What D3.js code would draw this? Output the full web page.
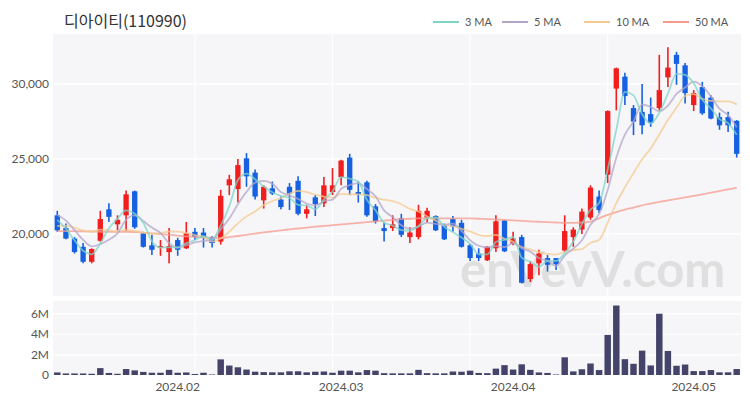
<!DOCTYPE html>
<html>
<head>
<meta charset="utf-8">
<script src="https://cdn.jsdelivr.net/npm/d3@7"></script>
<style>
  body { margin: 0; background: #fff; }
  svg { display: block; }
</style>
</head>
<body>
<script>
'use strict';

// trading days shown (KRX)
const dates = [
  "2024-01-12","2024-01-15","2024-01-16","2024-01-17","2024-01-18","2024-01-19","2024-01-22","2024-01-23","2024-01-24","2024-01-25",
  "2024-01-26","2024-01-29","2024-01-30","2024-01-31","2024-02-01","2024-02-02","2024-02-05","2024-02-06","2024-02-07","2024-02-08",
  "2024-02-13","2024-02-14","2024-02-15","2024-02-16","2024-02-19","2024-02-20","2024-02-21","2024-02-22","2024-02-23","2024-02-26",
  "2024-02-27","2024-02-28","2024-02-29","2024-03-04","2024-03-05","2024-03-06","2024-03-07","2024-03-08","2024-03-11","2024-03-12",
  "2024-03-13","2024-03-14","2024-03-15","2024-03-18","2024-03-19","2024-03-20","2024-03-21","2024-03-22","2024-03-25","2024-03-26",
  "2024-03-27","2024-03-28","2024-03-29","2024-04-01","2024-04-02","2024-04-03","2024-04-04","2024-04-05","2024-04-08","2024-04-09",
  "2024-04-11","2024-04-12","2024-04-15","2024-04-16","2024-04-17","2024-04-18","2024-04-19","2024-04-22","2024-04-23","2024-04-24",
  "2024-04-25","2024-04-26","2024-04-29","2024-04-30","2024-05-02","2024-05-03","2024-05-07","2024-05-08","2024-05-09","2024-05-10"
];

const opens = [
  21200,20350,19650,19100,18100,19500,21600,20600,21200,22800,
  20000,19200,19050,18750,19550,19000,20100,20050,19750,19450,
  23200,22950,25000,24050,22200,23000,22250,23100,23500,21300,
  22400,22000,22750,23750,25050,22750,23400,21800,20350,20350,
  21000,19750,19750,21050,21150,20550,20950,20700,19200,18650,
  18200,19000,20850,19300,19750,16950,18000,18350,18350,18850,
  19750,20250,21050,22450,23900,29650,30450,28350,28100,27950,
  28350,30400,31900,31200,28550,29750,29050,27750,27750,27500
];
const highs = [
  21500,20650,19750,19350,19000,21500,22000,21200,22850,22850,
  20100,19900,19550,20350,19700,20750,20350,20350,19800,22900,
  23900,24950,25350,24250,23200,23450,22450,23350,23800,21900,
  22550,23750,24350,24900,25300,23450,23500,21950,20700,21200,
  21300,20400,21900,21700,21200,20650,21150,20900,19300,19000,
  19150,21200,20900,20100,19900,18150,18900,18550,18350,21200,
  20400,21650,23200,22850,28200,31050,30700,28550,29950,29050,
  31900,32400,32100,31350,29550,30100,29200,28050,28100,27550
];
const lows = [
  20100,19600,18650,18000,18000,19450,20750,20200,20150,20300,
  19050,18550,18500,18000,18500,18950,19550,19050,19050,19250,
  22550,22050,23100,22250,21650,22550,21600,21550,21200,21000,
  21150,21750,22550,23200,22550,22050,21100,20650,19450,20150,
  19750,19350,19600,20700,20150,19550,20100,19050,18150,18150,
  18150,18750,18750,19200,16650,16750,17200,17450,17550,18750,
  19100,19950,20900,21350,23350,28200,28550,26550,26600,27100,
  28200,29750,29900,28650,28150,27900,27600,26900,26750,25050
];
const closes = [
  20200,19650,18750,18100,18950,20950,21100,20900,22600,20400,
  19100,18900,19150,19150,18900,20000,19750,19700,19350,22500,
  23600,24550,23800,22450,23100,22650,21750,22650,21300,21600,
  21950,23200,23200,24850,22900,22600,21200,20800,20150,20600,
  19900,20050,21500,21500,20200,19600,20450,19100,18350,18350,
  19100,20800,18800,19650,16700,17950,18650,17900,17950,20150,
  20250,21450,23050,21550,28150,31000,29150,27450,27200,27350,
  29550,31050,31300,29350,29350,28000,27650,27200,27200,25300
];
// closes of the 9 sessions before the window, so the short averages start where the picture shows
const priorCloses = [19600,19900,20100,19700,19500,21500,21900,21400,21100];

const volumes = [
  250000,150000,150000,150000,120000,670000,200000,120000,580000,450000,
  300000,220000,220000,500000,220000,250000,100000,220000,50000,1520000,
  920000,750000,530000,320000,280000,260000,260000,360000,360000,260000,
  320000,340000,220000,420000,420000,260000,480000,420000,180000,160000,
  160000,160000,500000,180000,160000,160000,340000,320000,420000,200000,
  180000,620000,960000,530000,1040000,500000,250000,200000,50000,1720000,
  350000,560000,1120000,480000,3900000,6760000,1540000,1090000,2370000,930000,
  5960000,2340000,900000,1020000,380000,380000,480000,260000,260000,580000
];

// 50-day average (history before the window is not shown)
const ma50 = [
  20150,20150,20140,20130,20120,20100,20100,20100,20100,20080,
  20050,20000,19950,19900,19850,19800,19760,19720,19700,19680,
  19750,19820,19900,19980,20060,20130,20200,20260,20320,20380,
  20440,20490,20540,20590,20640,20690,20740,20800,20850,20900,
  20940,20970,21000,21000,21000,21000,21000,21000,20990,20970,
  20950,20920,20890,20860,20830,20800,20770,20740,20720,20700,
  20700,20720,20780,21000,21230,21420,21580,21720,21870,21980,
  22090,22190,22290,22390,22490,22600,22710,22820,22930,23040
];

const priceTicks = [20000, 25000, 30000];
const volumeTicks = [0, 2000000, 4000000, 6000000];
const maPeriods = [3, 5, 10];
const legendLabels = ["3 MA", "5 MA", "10 MA", "50 MA"];
const maColors = ["#7fd4c8", "#b2a5c9", "#f4c98f", "#f59b8d"];
const title = "디아이티(110990)";

window.onload = function() {
  let width = 750;
  let height = 400;
  let left = 53, right = 741;
  let priceTop = 34, priceBottom = 296;
  let volTop = 301, volBottom = 375;
  let upColor = "#f21d1d";
  let downColor = "#1661e2";
  let font = "Lato, 'Noto Sans', sans-serif";

  let svg = d3.select("body").append("svg")
    .attr("width", width)
    .attr("height", height);

  let idx = d3.range(dates.length);
  let x = d3.scaleBand().domain(idx).range([left, right]);
  let cx = i => x(i) + x.bandwidth() / 2;

  let y = d3.scaleLinear().domain([15820, 33290]).range([priceBottom, priceTop]);
  let yv = d3.scaleLinear().domain([0, 7200000]).range([volBottom, volTop]);

  // panel backgrounds
  svg.append("rect").attr("x", left).attr("y", priceTop)
    .attr("width", right - left).attr("height", priceBottom - priceTop).attr("fill", "#f6f6f8");
  svg.append("rect").attr("x", left).attr("y", volTop)
    .attr("width", right - left).attr("height", volBottom - volTop).attr("fill", "#f6f6f8");

  // grid
  let vgrid = idx.filter(i => i > 0 && i % 16 === 0);
  svg.append("g").selectAll("line").data(vgrid).enter().append("line")
    .attr("x1", cx).attr("x2", cx)
    .attr("y1", priceTop).attr("y2", priceBottom)
    .attr("stroke", "#ffffff").attr("stroke-width", 1.2);
  svg.append("g").selectAll("line").data(vgrid).enter().append("line")
    .attr("x1", cx).attr("x2", cx)
    .attr("y1", volTop).attr("y2", volBottom)
    .attr("stroke", "#ffffff").attr("stroke-width", 1.2);

  let yAxis = svg.append("g")
    .attr("transform", "translate(" + left + ",0)")
    .call(d3.axisLeft(y).tickValues(priceTicks).tickSize(-(right - left)).tickPadding(4)
      .tickFormat(d3.format(",")));
  let vAxis = svg.append("g")
    .attr("transform", "translate(" + left + ",0)")
    .call(d3.axisLeft(yv).tickValues(volumeTicks).tickSize(-(right - left)).tickPadding(4)
      .tickFormat(d => d === 0 ? "0" : (d / 1e6) + "M"));
  [yAxis, vAxis].forEach(a => {
    a.select(".domain").remove();
    a.selectAll(".tick line").attr("stroke", "#ffffff").attr("stroke-width", 1.2);
    a.selectAll(".tick text").attr("fill", "#555").style("font-family", font).style("font-size", "12px");
  });

  // month ticks at first session of each month
  let monthStarts = idx.filter(i => i > 0 && dates[i].slice(5, 7) !== dates[i - 1].slice(5, 7));
  let xAxis = svg.append("g")
    .attr("transform", "translate(0," + volBottom + ")")
    .call(d3.axisBottom(x).tickValues(monthStarts).tickSize(0).tickPadding(7)
      .tickFormat(i => dates[i].slice(0, 7).replace("-", ".")));
  xAxis.select(".domain").remove();
  xAxis.selectAll(".tick text").attr("fill", "#555").style("font-family", font).style("font-size", "12px");

  // watermark
  svg.append("text")
    .attr("x", 460).attr("y", 287)
    .attr("fill", "#d6d6d6").attr("opacity", 0.7)
    .style("font-family", font).style("font-weight", "bold").style("font-size", "49px")
    .text("enVevV.com");

  // volume bars
  let bw = x.bandwidth() * 0.75;
  svg.append("g").selectAll("rect").data(idx).enter().append("rect")
    .attr("x", i => cx(i) - bw / 2)
    .attr("width", bw)
    .attr("y", i => yv(volumes[i]))
    .attr("height", i => Math.max(0.5, yv(0) - yv(volumes[i])))
    .attr("fill", "#44446a");

  // candles
  let cw = x.bandwidth() * 0.62;
  let candles = svg.append("g").selectAll("g").data(idx).enter().append("g");
  let col = i => closes[i] >= opens[i] ? upColor : downColor;
  candles.append("line")
    .attr("x1", cx).attr("x2", cx)
    .attr("y1", i => y(highs[i])).attr("y2", i => y(lows[i]))
    .attr("stroke", col).attr("stroke-width", 1.6);
  candles.append("rect")
    .attr("x", i => cx(i) - cw / 2)
    .attr("width", cw)
    .attr("y", i => y(Math.max(opens[i], closes[i])))
    .attr("height", i => Math.max(1, Math.abs(y(opens[i]) - y(closes[i]))))
    .attr("fill", col);

  // moving averages
  let all = priorCloses.concat(closes);
  let off = priorCloses.length;
  let series = maPeriods.map(p => idx.map(i => d3.mean(all.slice(i + off - p + 1, i + off + 1))));
  series.push(ma50);
  let line = d3.line().x((d, i) => cx(i)).y(d => y(d)).curve(d3.curveMonotoneX);
  svg.append("g").selectAll("path").data(series.slice().reverse()).enter().append("path")
    .attr("d", line)
    .attr("fill", "none")
    .attr("stroke", (d, k) => maColors[series.length - 1 - k])
    .attr("stroke-width", 1.8)
    .attr("opacity", 0.75);

  // title
  svg.append("text")
    .attr("x", 64).attr("y", 27)
    .attr("fill", "#333")
    .style("font-family", "'Noto Sans CJK KR', sans-serif")
    .style("font-size", "16px")
    .text(title);

  // legend
  let legendX = [433, 502, 584, 663];
  let legend = svg.append("g").selectAll("g").data(legendLabels).enter().append("g")
    .attr("transform", (d, k) => "translate(" + legendX[k] + ",22)");
  legend.append("line")
    .attr("x1", 0).attr("x2", 26).attr("y1", 0).attr("y2", 0)
    .attr("stroke", (d, k) => maColors[k]).attr("stroke-width", 2);
  legend.append("text")
    .attr("x", 32).attr("y", 4)
    .attr("fill", "#555")
    .style("font-family", font).style("font-size", "11px")
    .text(d => d);
};
</script>
</body>
</html>
